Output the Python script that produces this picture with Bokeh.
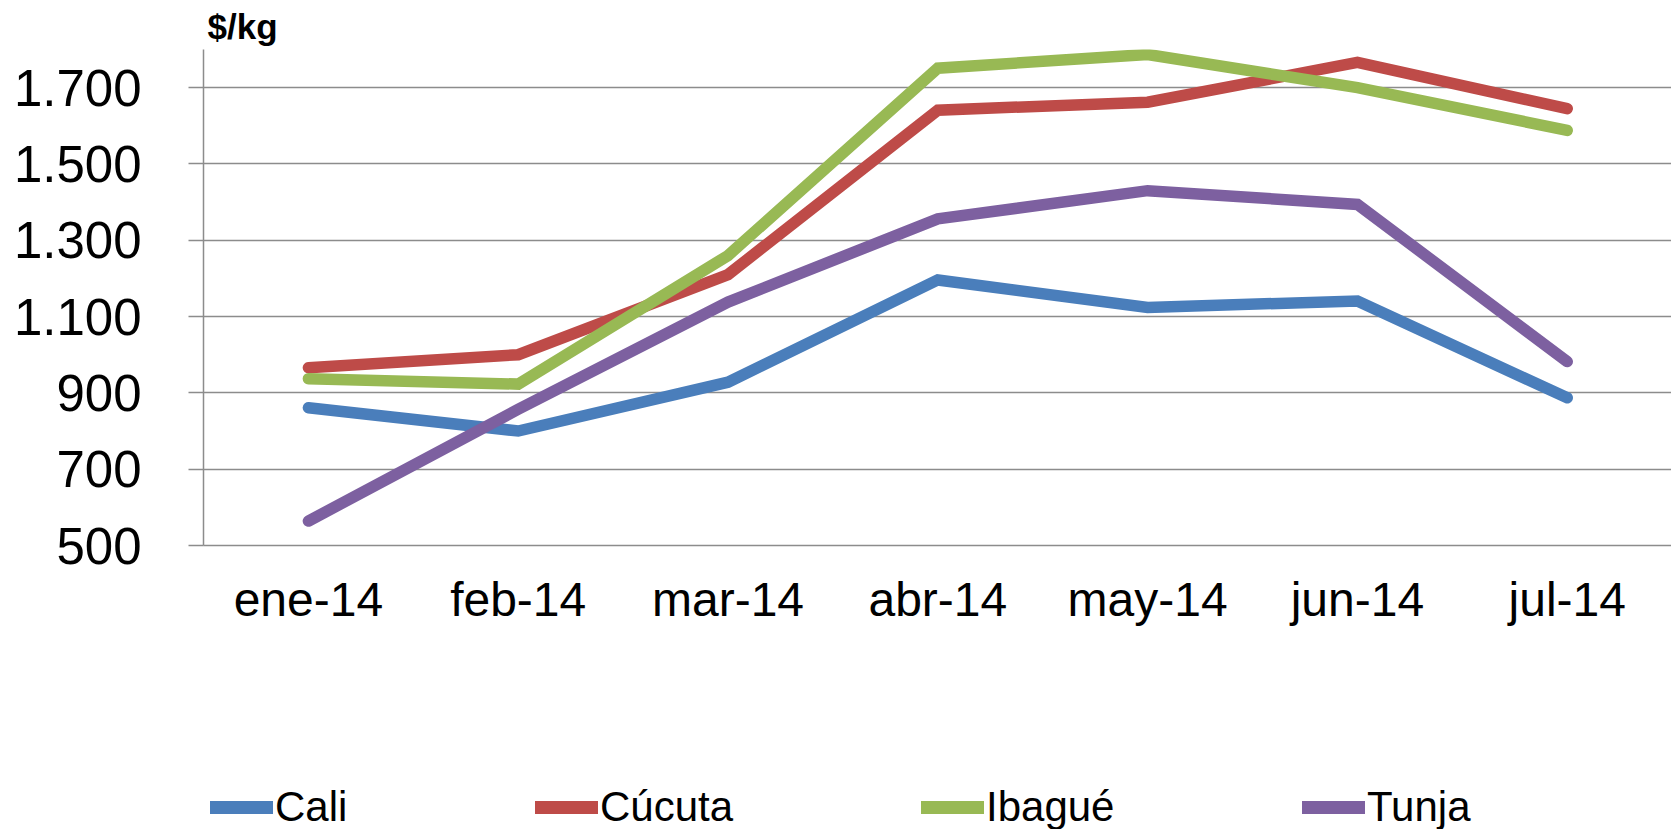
from bokeh.plotting import figure
from bokeh.models import FixedTicker, Legend, LegendItem, Range1d
from bokeh.layouts import column
from bokeh.embed import file_html
from bokeh.resources import INLINE

# ---- data ----
months = ["ene-14", "feb-14", "mar-14", "abr-14", "may-14", "jun-14", "jul-14"]
cali = [861, 800, 928, 1196, 1124, 1141, 887]
cucuta = [966, 1000, 1210, 1641, 1662, 1766, 1645]
ibague = [937, 923, 1260, 1751, 1787, 1700, 1588]
tunja = [564, 857, 1138, 1356, 1430, 1394, 982]
y_ticks = [500, 700, 900, 1100, 1300, 1500, 1700]
y_tick_labels = ["500", "700", "900", "1.100", "1.300", "1.500", "1.700"]
series_names = ["Cali", "Cúcuta", "Ibagué", "Tunja"]
unit_label = "$/kg"

colors = ["#4A7EBB", "#BE4B48", "#98B954", "#7D60A0"]
FONT = "Liberation Sans"
GRID = "#8c8c8c"

x = list(range(len(months)))
series = [cali, cucuta, ibague, tunja]

# ---------------- main chart ----------------
p = figure(width=1671, height=729, output_backend="svg", toolbar_location=None,
           x_range=Range1d(-0.5, 6.497), y_range=Range1d(500, 1800),
           min_border_left=203, min_border_right=0, min_border_top=43,
           min_border_bottom=184)
p.outline_line_color = None
p.background_fill_color = "white"
p.border_fill_color = "white"

# title used as unit label
p.title.text = unit_label
p.title.align = "left"
p.title.offset = 4
p.title.text_font = FONT
p.title.text_font_style = "bold"
p.title.text_font_size = "35px"
p.title.text_color = "black"
p.title.vertical_align = "bottom"
p.title.text_baseline = "alphabetic"
p.title.standoff = 8

# y axis
p.yaxis.ticker = FixedTicker(ticks=y_ticks)
p.yaxis.major_label_overrides = {t: l for t, l in zip(y_ticks, y_tick_labels)}
p.yaxis.major_tick_out = 15
p.yaxis.major_tick_in = 0
p.yaxis.minor_tick_out = 0
p.yaxis.minor_tick_in = 0
p.yaxis.axis_line_color = GRID
p.yaxis.axis_line_width = 1.5
p.yaxis.major_tick_line_color = GRID
p.yaxis.major_tick_line_width = 1.5
p.yaxis.major_label_text_font = FONT
p.yaxis.major_label_text_font_size = "51px"
p.yaxis.major_label_text_color = "black"
p.yaxis.major_label_standoff = 47

# x axis
p.xaxis.ticker = FixedTicker(ticks=x)
p.xaxis.major_label_overrides = {i: m for i, m in zip(x, months)}
p.xaxis.major_tick_out = 0
p.xaxis.major_tick_in = 0
p.xaxis.minor_tick_out = 0
p.xaxis.minor_tick_in = 0
p.xaxis.axis_line_color = GRID
p.xaxis.axis_line_width = 1.5
p.xaxis.major_label_text_font = FONT
p.xaxis.major_label_text_font_size = "48px"
p.xaxis.major_label_text_color = "black"
p.xaxis.major_label_standoff = 27

# grid
p.xgrid.grid_line_color = None
p.ygrid.ticker = FixedTicker(ticks=y_ticks)
p.ygrid.grid_line_color = GRID
p.ygrid.grid_line_width = 1.5

for vals, col in zip(series, colors):
    p.line(x, vals, line_width=11.5, line_color=col,
           line_cap="round", line_join="miter")

# ---------------- legend strip ----------------
lg = figure(width=1671, height=100, output_backend="svg", toolbar_location=None,
            x_range=Range1d(0, 1), y_range=Range1d(0, 1),
            x_axis_type=None, y_axis_type=None,
            min_border_left=0, min_border_right=0, min_border_top=0,
            min_border_bottom=0)
lg.outline_line_color = None
lg.xgrid.grid_line_color = None
lg.ygrid.grid_line_color = None
lg.background_fill_color = "white"
lg.border_fill_color = "white"

# positions relative to the (column-aligned) frame left edge
leg_x = [7, 332, 718, 1099]
for name, vals, col, lx in zip(series_names, series, colors, leg_x):
    r = lg.line(x, vals, line_width=13, line_color=col, line_cap="round",
                visible=False)
    leg = Legend(items=[LegendItem(label=name, renderers=[r])],
                 location=(lx, -8), orientation="horizontal",
                 padding=0, margin=0, spacing=0,
                 glyph_width=63, glyph_height=60, label_height=60,
                 label_standoff=2,
                 label_text_font=FONT, label_text_font_size="42px",
                 label_text_color="black",
                 border_line_alpha=0, background_fill_alpha=0)
    lg.add_layout(leg)

layout = column(p, lg, spacing=0)
open("out.html", "w").write(file_html(layout, INLINE))
